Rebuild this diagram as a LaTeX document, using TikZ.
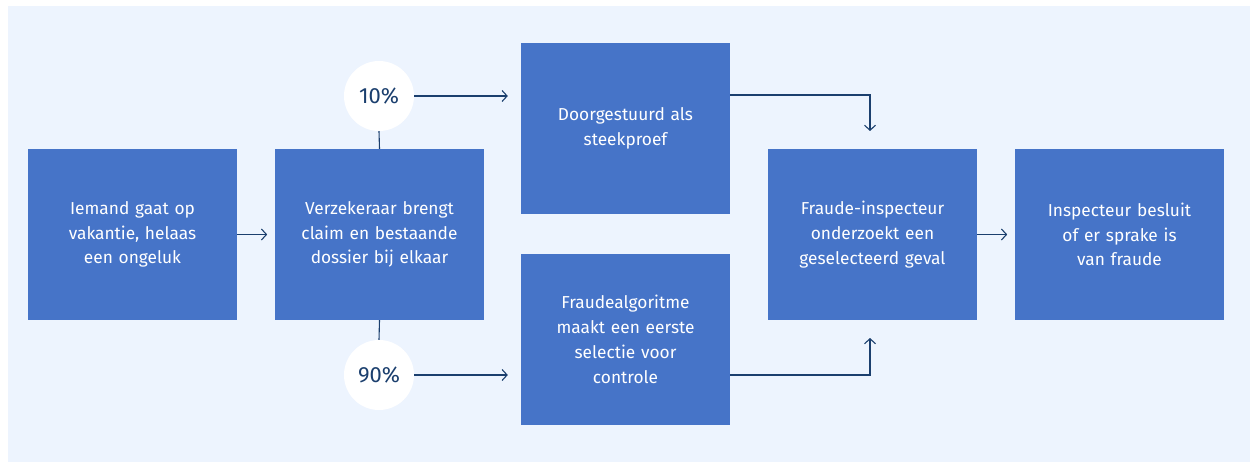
\documentclass[tikz,border=0pt]{standalone}
\usepackage{fontspec}
\setmainfont{Fira Sans}
\usetikzlibrary{arrows.meta}
\definecolor{bgblue}{HTML}{EDF4FE}
\definecolor{boxblue}{HTML}{4674C8}
\definecolor{navy}{HTML}{1B3F6E}
\tikzset{
  stap/.style={fill=boxblue, text=white, minimum width=209pt, minimum height=171pt,
    text width=190pt, align=center, inner sep=0pt,
    font=\fontsize{17.3}{24.8}\selectfont},
  perc/.style={circle, fill=white, minimum size=70pt, inner sep=0pt, text=navy,
    font=\fontsize{22}{26}\selectfont},
  pijl/.style={navy, line width=1.1pt, -{Straight Barb[length=5pt,width=11pt]}},
  lijn/.style={navy, line width=1.1pt}
}
\begin{document}
\begin{tikzpicture}[x=1pt,y=-1pt]
  \useasboundingbox (0,0) rectangle (1250,462);
  \fill[bgblue] (8,6) rectangle (1250,462);
  % stappen
  \node[stap] (ongeluk) at (132.5,234.5) {Iemand gaat op\\vakantie, helaas\\een ongeluk};
  \node[stap] (claim) at (379.5,234.5) {Verzekeraar brengt\\claim en bestaande\\dossier bij elkaar};
  \node[stap] (steek) at (625.5,128.5) {Doorgestuurd als\\steekproef};
  \node[stap] (algo) at (625.5,339.5) {Fraudealgoritme\\maakt een eerste\\selectie voor\\controle};
  \node[stap] (inspect) at (872.5,234.5) {Fraude-inspecteur\\onderzoekt een\\geselecteerd geval};
  \node[stap] (besluit) at (1119.5,234.5) {Inspecteur besluit\\of er sprake is\\van fraude};
  % percentages
  \node[perc] (tien) at (379,96) {10\%};
  \node[perc] (negentig) at (379,375) {90\%};
  \coordinate (inA) at (870,131);
  \coordinate (inB) at (870,338);
  % verbindingen
  \draw[pijl] (ongeluk.east) -- ++(30,0);
  \draw[pijl] (inspect.east) -- ++(30,0);
  \draw[lijn] (claim.north) -- (tien.south);
  \draw[lijn] (claim.south) -- (negentig.north);
  \draw[pijl] (tien.east) -- ([xshift=-13pt]steek.west |- tien.east);
  \draw[pijl] (negentig.east) -- ([xshift=-13pt]algo.west |- negentig.east);
  \draw[pijl] (steek.east |- 0,95) -| (inA);
  \draw[pijl] (algo.east |- 0,375) -| (inB);
\end{tikzpicture}
\end{document}
